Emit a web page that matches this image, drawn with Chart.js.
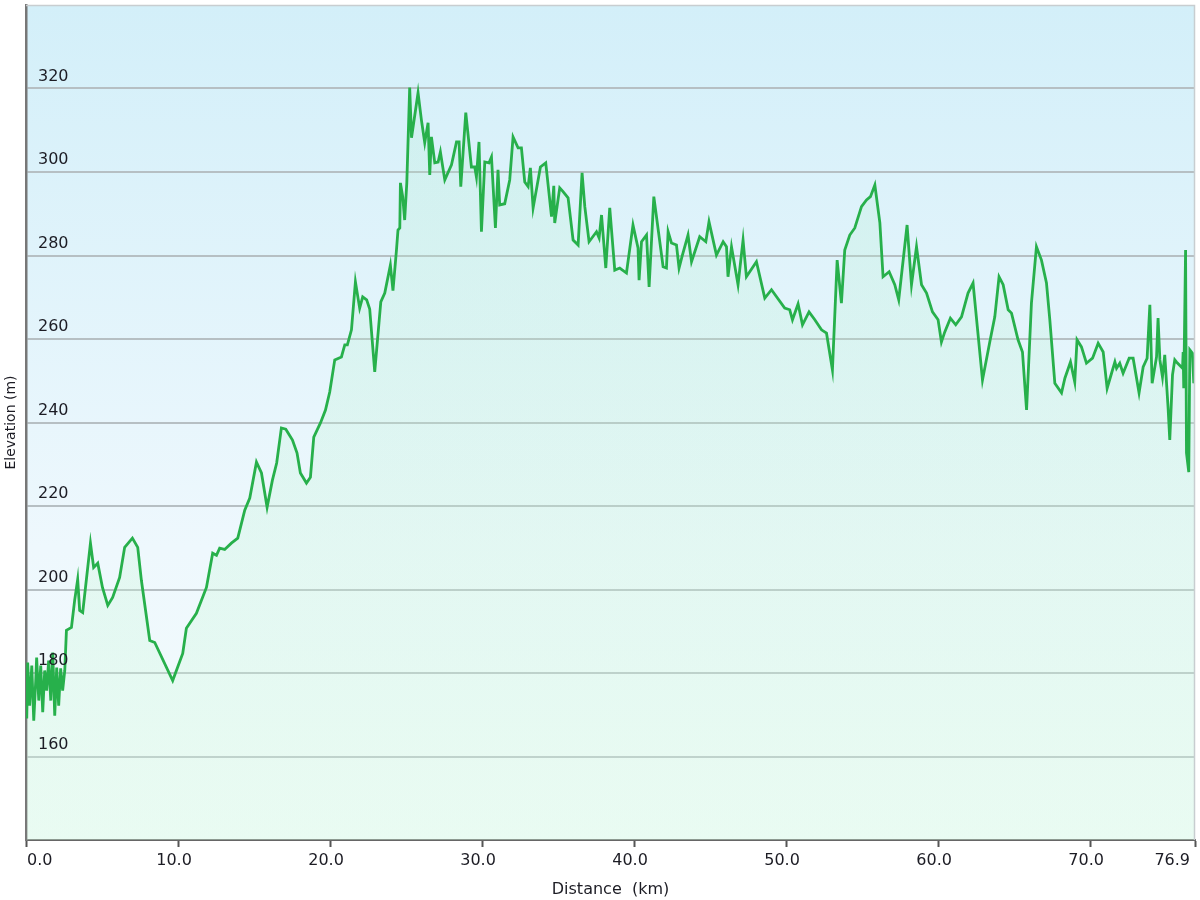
<!DOCTYPE html>
<html lang="en">
<head>
  <meta charset="UTF-8">
  <title>Elevation profile</title>
  <script src="https://cdn.jsdelivr.net/npm/chart.js"></script>
  <style>
    html, body { margin: 0; padding: 0; background: #fff; }
    #wrap { width: 1200px; height: 900px; }
  </style>
</head>
<body>
  <div id="wrap"><canvas id="profile"></canvas></div>
  <script>
    // distance along the route (km) and elevation (m)
    const distKm = [0.05,0.11,0.24,0.38,0.51,0.64,0.70,0.84,0.97,1.10,1.23,1.36,1.49,1.63,1.76,1.89,2.02,2.15,2.28,2.41,2.55,2.66,2.99,3.20,3.40,3.53,3.73,4.24,4.45,4.72,5.03,5.38,5.70,6.16,6.49,7.00,7.35,7.59,8.14,8.47,9.65,10.31,10.55,11.21,11.87,12.28,12.53,12.74,13.07,13.51,13.93,14.39,14.72,15.16,15.49,15.86,16.21,16.49,16.80,17.09,17.53,17.83,18.05,18.45,18.71,18.93,19.37,19.70,19.98,20.31,20.75,20.97,21.14,21.41,21.67,21.95,22.15,22.41,22.61,22.94,23.34,23.60,23.97,24.14,24.37,24.47,24.59,24.63,24.78,24.91,25.05,25.24,25.36,25.79,26.01,26.23,26.45,26.56,26.67,26.89,27.11,27.26,27.55,27.99,28.32,28.49,28.60,28.93,29.30,29.52,29.63,29.80,29.96,30.18,30.46,30.62,30.88,31.05,31.16,31.49,31.82,32.04,32.37,32.59,32.81,33.03,33.18,33.36,33.84,34.19,34.57,34.72,34.78,35.11,35.33,35.66,35.99,36.32,36.58,36.76,37.04,37.53,37.70,37.86,38.14,38.40,38.73,39.06,39.50,39.93,40.26,40.33,40.49,40.82,40.99,41.30,41.91,42.13,42.24,42.46,42.79,42.96,43.18,43.55,43.78,44.32,44.72,44.93,45.42,45.86,46.08,46.18,46.41,46.84,47.17,47.39,48.05,48.60,49.04,49.91,50.24,50.42,50.79,51.08,51.51,51.89,52.33,52.66,53.05,53.36,53.64,53.86,54.19,54.52,54.96,55.29,55.55,55.84,56.17,56.38,56.78,57.15,57.41,57.96,58.25,58.58,58.91,59.24,59.63,60.00,60.22,60.44,60.81,61.16,61.54,61.97,62.30,62.92,63.40,63.73,64.01,64.28,64.61,64.83,65.26,65.55,65.82,66.14,66.47,66.80,67.13,67.35,67.68,68.12,68.34,68.71,68.99,69.14,69.43,69.76,70.16,70.53,70.86,71.12,71.41,71.63,71.74,71.95,72.17,72.57,72.83,73.22,73.49,73.75,73.93,74.08,74.37,74.47,74.59,74.76,74.91,75.13,75.24,75.42,75.57,75.68,76.08,76.12,76.16,76.28,76.34,76.49,76.56,76.73,76.82,76.90];

    const elevM = [169.1,182.5,172.2,181.8,168.6,178.2,183.7,173.4,181.8,170.6,180.6,175.8,183.0,173.4,184.9,169.8,181.3,172.2,181.1,175.8,180.6,190.2,190.9,197.4,202.4,195.0,194.5,211.1,205.3,206.3,200.5,196.2,198.1,202.9,210.1,212.3,210.1,202.2,187.8,187.3,178.2,184.7,190.7,194.3,200.5,208.7,208.2,209.9,209.6,211.1,212.3,219.0,221.9,230.5,227.9,219.7,226.2,230.3,238.7,238.4,235.8,232.7,227.9,225.5,226.9,236.5,239.9,243.0,247.3,255.0,255.7,258.6,258.6,262.2,273.7,267.4,270.1,269.4,267.2,252.1,268.9,271.0,277.7,271.6,281.3,286.1,286.6,297.4,294.1,288.5,297.4,320.2,308.2,319.0,312.5,307.0,311.8,299.3,308.4,302.2,302.4,304.8,298.1,301.7,307.2,307.2,296.5,314.2,301.2,301.2,298.8,307.2,285.7,302.4,302.2,303.6,286.6,300.5,292.1,292.4,298.1,308.4,305.8,305.8,297.6,296.5,301.0,291.4,301.2,302.2,289.3,296.7,287.8,296.2,295.3,293.8,283.7,282.5,299.8,291.7,283.3,285.7,284.2,289.7,277.0,291.4,276.5,277.0,275.8,287.3,281.8,274.1,283.3,284.9,272.5,294.1,277.3,277.0,285.7,283.0,282.5,277.0,280.1,284.9,278.5,284.5,283.3,288.1,280.1,283.3,282.1,274.9,282.1,273.0,283.7,274.9,278.5,269.8,271.8,267.4,267.0,264.6,268.4,263.4,266.5,264.6,262.2,261.4,252.6,278.9,268.6,281.3,284.9,286.6,291.7,293.3,294.1,296.9,287.8,274.9,276.1,273.0,269.4,287.3,273.0,282.1,273.0,271.0,266.5,264.6,259.3,261.7,265.0,263.4,265.3,271.0,273.4,250.2,259.3,265.3,274.9,273.0,267.0,266.2,259.8,256.9,243.0,268.6,282.1,278.9,273.4,264.6,249.4,247.1,250.6,254.5,249.7,259.8,258.1,254.2,255.4,259.0,256.9,248.2,251.8,254.5,253.0,254.2,251.8,255.4,255.4,247.1,253.3,255.4,268.2,249.4,255.7,265.0,255.0,250.9,256.2,243.5,235.8,251.4,255.0,254.5,253.0,256.9,248.2,281.3,232.7,228.1,257.4,256.6,249.4,252.0];

    const xTicks = [0, 10, 20, 30, 40, 50, 60, 70, 76.9];
    const yLabels = [160, 180, 200, 220, 240, 260, 280, 300, 320];

    const points = distKm.map((d, i) => ({ x: d, y: elevM[i] }));

    const labelFont = '16px "DejaVu Sans", Verdana, sans-serif';

    // plot background gradient + labels drawn inside the plot
    const decorate = {
      id: 'decorate',
      beforeDraw(chart) {
        const { ctx, chartArea: a } = chart;
        ctx.save();
        ctx.fillStyle = '#fff';
        ctx.fillRect(0, 0, chart.width, chart.height);
        const g = ctx.createLinearGradient(0, a.top, 0, a.bottom);
        g.addColorStop(0, '#d3eff9');
        g.addColorStop(0.65, '#eef8fd');
        g.addColorStop(1, '#f3fbfb');
        ctx.fillStyle = g;
        ctx.fillRect(a.left, a.top, a.right - a.left, a.bottom - a.top);
        ctx.restore();
      },
      afterDraw(chart) {
        const { ctx, chartArea: a } = chart;
        const xs = chart.scales.x, ys = chart.scales.y;
        ctx.save();
        // light frame on top and right
        ctx.strokeStyle = '#c8cdd0';
        ctx.lineWidth = 1.5;
        ctx.beginPath();
        ctx.moveTo(a.left, a.top + 0.5);
        ctx.lineTo(a.right - 0.5, a.top + 0.5);
        ctx.lineTo(a.right - 0.5, a.bottom);
        ctx.stroke();

        ctx.fillStyle = '#1c1c24';
        ctx.font = labelFont;
        ctx.textBaseline = 'middle';
        // y labels sit just above their grid line
        ctx.textAlign = 'left';
        yLabels.forEach(v => {
          ctx.fillText(String(v), a.left + 12, ys.getPixelForValue(v) - 12);
        });
        // x labels
        xTicks.forEach((v, i) => {
          const px = xs.getPixelForValue(v);
          if (i === 0) { ctx.textAlign = 'left'; ctx.fillText(v.toFixed(1), px + 1, 861); }
          else if (i === xTicks.length - 1) { ctx.textAlign = 'right'; ctx.fillText(v.toFixed(1), px - 5, 861); }
          else { ctx.textAlign = 'center'; ctx.fillText(v.toFixed(1), px - 4, 861); }
        });
        ctx.restore();
      }
    };

    const ctx = document.getElementById('profile').getContext('2d');
    new Chart(ctx, {
      type: 'line',
      data: {
        datasets: [{
          data: points,
          borderColor: '#27b04b',
          borderWidth: 2.8,
          pointRadius: 0,
          tension: 0,
          fill: 'start',
          backgroundColor: function (context) {
            const a = context.chart.chartArea;
            if (!a) return 'rgba(180,235,200,0.2)';
            const g = context.chart.ctx.createLinearGradient(0, a.top, 0, a.bottom);
            g.addColorStop(0, 'rgba(170,235,200,0.18)');
            g.addColorStop(1, 'rgba(215,252,225,0.35)');
            return g;
          }
        }]
      },
      options: {
        responsive: true,
        maintainAspectRatio: false,
        animation: false,
        layout: { padding: { top: 5, right: 5, left: 0, bottom: 0 } },
        plugins: {
          legend: { display: false },
          tooltip: { enabled: false }
        },
        scales: {
          x: {
            type: 'linear',
            min: 0,
            max: 76.9,
            afterBuildTicks: function (scale) {
              scale.ticks = xTicks.map(v => ({ value: v }));
            },
            afterFit: function (scale) { scale.height = 60; },
            ticks: { display: false },
            grid: {
              drawOnChartArea: false,
              drawTicks: true,
              tickLength: 7,
              tickColor: '#555',
              tickWidth: 2
            },
            border: { display: true, color: '#666', width: 2 },
            title: {
              display: true,
              text: 'Distance  (km)',
              color: '#1c1c24',
              font: { family: '"DejaVu Sans", Verdana, sans-serif', size: 16 },
              padding: { top: 0, bottom: 1 }
            }
          },
          y: {
            min: 140,
            max: 340,
            afterFit: function (scale) { scale.width = 26; },
            ticks: { display: false, stepSize: 20 },
            grid: {
              drawTicks: false,
              lineWidth: 2,
              color: function (c) {
                const v = c.tick && c.tick.value;
                return (v === 140 || v === 340) ? 'rgba(0,0,0,0)' : '#b6bfc3';
              }
            },
            border: { display: true, color: '#777', width: 2.5 },
            title: {
              display: true,
              text: 'Elevation (m)',
              color: '#1c1c24',
              font: { family: '"DejaVu Sans", Verdana, sans-serif', size: 14 },
              padding: { top: 3, bottom: 0 }
            }
          }
        }
      },
      plugins: [decorate]
    });
  </script>
</body>
</html>
